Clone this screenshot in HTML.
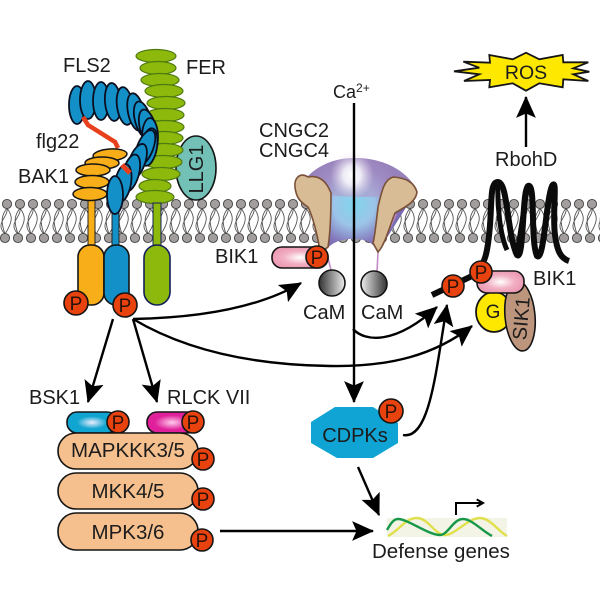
<!DOCTYPE html>
<html><head><meta charset="utf-8"><style>
html,body{margin:0;padding:0;background:#fff}
svg{display:block;filter:blur(.3px)}
text{font-family:"Liberation Sans",sans-serif;fill:#1c1c1c;font-size:20px}
.p{fill:#e8420f;stroke:#151515;stroke-width:1.6}
.pt{font-size:19px;text-anchor:middle;fill:#2a1208}
.b{fill:#1490c8;stroke:#0a0f20;stroke-width:1.8}
.o{fill:#f8ae18;stroke:#151515;stroke-width:1.5}
.g{fill:#8db80c;stroke:#4f7a10;stroke-width:1.2}
.k{fill:#f6c08e;stroke:#151515;stroke-width:1.6}
.a{fill:none;stroke:#000;stroke-width:2.4;marker-end:url(#ah)}
</style></head><body>
<svg width="600" height="600" viewBox="0 0 600 600" xmlns="http://www.w3.org/2000/svg">
<defs>
<marker id="ah" markerUnits="userSpaceOnUse" viewBox="0 0 20 18" refX="19" refY="9" markerWidth="22" markerHeight="20" orient="auto"><path d="M0,0 L20,9 L0,18 L4,9 Z" fill="#000"/></marker>
<marker id="ah2" markerUnits="userSpaceOnUse" viewBox="0 0 10 10" refX="8" refY="5" markerWidth="9" markerHeight="9" orient="auto"><path d="M1,1 L8,5 L1,9" fill="none" stroke="#000" stroke-width="2.2"/></marker>
<pattern id="mem" patternUnits="userSpaceOnUse" x="0" y="195" width="13" height="50">
<path d="M7,13 C2,20 0,25 5,39 M7,13 C12,20 14,25 5,39 M7,13 C9,22 -6,28 5,39" fill="none" stroke="#555" stroke-width=".9"/>
<path d="M20,13 C15,20 13,25 18,39" fill="none" stroke="#555" stroke-width=".9"/>
<circle cx="7" cy="9" r="4.6" fill="#a39e9e" stroke="#444" stroke-width=".9"/>
<circle cx="5" cy="43" r="4.6" fill="#a39e9e" stroke="#444" stroke-width=".9"/>
</pattern>
<radialGradient id="dome" gradientUnits="userSpaceOnUse" cx="354" cy="205" r="52" fx="354" fy="205">
<stop offset="0" stop-color="#80d6ee"/><stop offset=".4" stop-color="#9cc4e8"/><stop offset=".75" stop-color="#8478bc"/><stop offset="1" stop-color="#7260a8"/>
</radialGradient>
<radialGradient id="wh" cx=".5" cy=".5" r=".5"><stop offset="0" stop-color="#fff"/><stop offset=".4" stop-color="#fff" stop-opacity=".8"/><stop offset="1" stop-color="#e8d8ea" stop-opacity="0"/></radialGradient>
<linearGradient id="cam1"><stop offset="0" stop-color="#333"/><stop offset="1" stop-color="#eee"/></linearGradient>
<linearGradient id="cam2"><stop offset="0" stop-color="#eee"/><stop offset="1" stop-color="#333"/></linearGradient>
<radialGradient id="pk"><stop offset="0" stop-color="#fff"/><stop offset=".6" stop-color="#f2b0c4"/><stop offset="1" stop-color="#ec9cb4"/></radialGradient>
<radialGradient id="bl"><stop offset="0" stop-color="#eef"/><stop offset=".6" stop-color="#10a4d0"/></radialGradient>
<radialGradient id="mg"><stop offset="0" stop-color="#fce"/><stop offset=".7" stop-color="#e0209a"/></radialGradient>
</defs>
<rect width="600" height="600" fill="#fff"/>
<rect x="0" y="195" width="600" height="50" fill="url(#mem)"/>

<!-- Rboh -->
<path d="M432,295 L470,277 C486,268 488,250 490,225 C492,200 490,182 498,182 C508,182 507,235 517,255 C524,262 522,190 528,186 C536,182 530,240 537,256 C544,262 546,200 552,186 C558,176 552,215 555,235 C557,250 560,258 569,261" fill="none" stroke="#0b0b0b" stroke-width="6"/>
<path d="M528,186 C522,215 520,245 515,255 M498,182 C497,205 500,235 507,250" fill="none" stroke="#0b0b0b" stroke-width="5"/>

<!-- LLG1 -->
<ellipse cx="196" cy="168" rx="20" ry="32" fill="#72c0b6" stroke="#151515" stroke-width="1.6"/>
<text transform="translate(203,169) rotate(-90)" text-anchor="middle" style="font-size:20px">LLG1</text>

<!-- FER -->
<g class="g">
<ellipse cx="156" cy="56" rx="20" ry="6.5"/><ellipse cx="158" cy="68" rx="18" ry="6.5"/><ellipse cx="160" cy="80" rx="19" ry="6.5"/><ellipse cx="164" cy="91" rx="19" ry="6.5"/><ellipse cx="166" cy="103" rx="19" ry="6.5"/><ellipse cx="165" cy="115" rx="19" ry="6.5"/><ellipse cx="165" cy="127" rx="19" ry="6.5"/><ellipse cx="164" cy="138" rx="19" ry="6.5"/><ellipse cx="164" cy="150" rx="19" ry="6.5"/><ellipse cx="163" cy="162" rx="19" ry="6.5"/><ellipse cx="161" cy="174" rx="19" ry="6.5"/><ellipse cx="155" cy="186" rx="16" ry="6.5"/><ellipse cx="155" cy="197" rx="19" ry="6.5"/>
</g>
<rect x="153" y="203" width="8" height="43" fill="#8db80c" stroke="#14205a" stroke-width="1"/>
<rect x="144" y="245" width="26" height="60" rx="13" fill="#8db80c" stroke="#14205a" stroke-width="1.6"/>

<!-- stems and bodies -->
<rect x="88" y="200" width="7" height="46" fill="#f8ae18" stroke="#222" stroke-width="1"/>
<rect x="112" y="208" width="7" height="38" fill="#1490c8" stroke="#222" stroke-width="1"/>
<rect x="78" y="245" width="26" height="60" rx="12" fill="#f8ae18" stroke="#151515" stroke-width="1.6"/>
<rect x="104" y="245" width="25" height="60" rx="12" fill="#1490c8" stroke="#151515" stroke-width="1.6"/>

<!-- FLS2 upper -->
<g class="b">
<ellipse cx="77" cy="105" rx="8" ry="19"/><ellipse cx="88" cy="100" rx="8" ry="19"/><ellipse cx="101" cy="101" rx="8" ry="19"/><ellipse cx="113" cy="102" rx="8" ry="19" transform="rotate(-5 113 102)"/><ellipse cx="125" cy="106" rx="8" ry="19" transform="rotate(-8 125 106)"/><ellipse cx="136" cy="112" rx="8" ry="19" transform="rotate(-12 136 112)"/><ellipse cx="143" cy="120" rx="8" ry="19" transform="rotate(-15 143 120)"/><ellipse cx="148" cy="128" rx="8" ry="19" transform="rotate(-15 148 128)"/><ellipse cx="150" cy="137" rx="8" ry="19"/><ellipse cx="149" cy="147" rx="8" ry="19" transform="rotate(10 149 147)"/>
</g>
<path d="M83,117 L88,125 L115,142 L118,148" fill="none" stroke="#e8401c" stroke-width="4.5"/>

<!-- BAK1 -->
<g class="o">
<ellipse cx="110" cy="155" rx="17" ry="6" transform="rotate(-4 110 155)"/><ellipse cx="102" cy="163" rx="17" ry="6"/><ellipse cx="93" cy="170" rx="17" ry="6"/><ellipse cx="92" cy="182" rx="17" ry="6.5"/><ellipse cx="90" cy="194" rx="17" ry="6.5"/>
</g>

<!-- FLS2 lower -->
<g class="b">
<ellipse cx="145" cy="148" rx="8" ry="19" transform="rotate(22 145 148)"/><ellipse cx="137" cy="162" rx="8" ry="19" transform="rotate(20 137 162)"/><ellipse cx="131" cy="173" rx="8" ry="19" transform="rotate(15 131 173)"/><ellipse cx="123" cy="183" rx="8" ry="19" transform="rotate(10 123 183)"/><ellipse cx="115" cy="195" rx="8" ry="19"/>
</g>
<path d="M122,165 L130,173" fill="none" stroke="#e8401c" stroke-width="5"/>

<circle class="p" cx="76" cy="303" r="12"/><text class="pt" x="76" y="310">P</text>
<circle class="p" cx="125" cy="305" r="12"/><text class="pt" x="125" y="312">P</text>

<!-- channel -->
<path d="M300,185 C315,165 335,158 355,158 C380,158 405,168 417,190 L378,252 C372,240 362,239 352,239 C342,239 332,242 326,250 Z" fill="url(#dome)"/>
<path d="M300,185 C315,165 335,158 355,158 C380,158 405,168 417,190 C400,200 310,200 300,185 Z" fill="#b098c8" opacity=".6"/>
<ellipse cx="352" cy="175" rx="22" ry="24" fill="url(#wh)"/>
<path d="M328,258 L331,270 M378,252 L377,272 M396,214 L388,232" stroke="#c58cc8" stroke-width="1.6" fill="none"/>
<path d="M295,187 C294,178 300,172 308,177 C318,175 326,180 331,193 C331,215 330,235 328,247 L320,253 C318,235 312,215 308,207 C300,202 296,197 295,187 Z" fill="#d8bc96" stroke="#7a5038" stroke-width="1.6"/>
<path d="M417,192 C414,182 406,178 393,177 C384,180 382,190 378,207 C376,225 374,240 373,243 L378,252 C385,245 390,225 395,213 C405,207 416,202 417,192 Z" fill="#d8bc96" stroke="#7a5038" stroke-width="1.6"/>

<!-- BIK1 left -->
<rect x="272" y="247" width="56" height="21" rx="10" fill="url(#pk)" stroke="#151515" stroke-width="1.6"/>
<circle class="p" cx="317" cy="257" r="11"/><text class="pt" x="317" y="264">P</text>
<circle cx="332" cy="283" r="13" fill="url(#cam1)" stroke="#151515" stroke-width="1.6"/>
<circle cx="374" cy="284" r="13" fill="url(#cam2)" stroke="#151515" stroke-width="1.6"/>

<!-- right complex -->
<ellipse cx="494" cy="312" rx="18" ry="20" fill="#ffe800" stroke="#151515" stroke-width="1.8"/>
<ellipse cx="520" cy="316" rx="15" ry="35" fill="#bc957c" stroke="#151515" stroke-width="1.6" transform="rotate(-5 520 316)"/>
<rect x="477" y="271" width="47" height="22" rx="10" fill="url(#pk)" stroke="#151515" stroke-width="1.6"/>
<circle class="p" cx="481" cy="272" r="11"/><text class="pt" x="481" y="279">P</text>
<circle class="p" cx="453" cy="286" r="11"/><text class="pt" x="453" y="293">P</text>
<text x="493" y="318" text-anchor="middle" style="font-size:19px">G</text>
<text transform="translate(528,319) rotate(-85)" text-anchor="middle" style="font-size:20px">SIK1</text>

<!-- ROS -->
<polygon points="489.3,55 512.7,59.3 526,52.7 539.3,59.3 562.7,55 563.3,62.3 588.3,62.3 573.3,68.3 589.3,71.7 573.3,74.3 588.3,81 563.3,79.3 562.7,87.3 539.3,83.3 526,90.7 512.7,83.3 489.3,87.3 490,80 464,81 479.3,74.3 454,71.3 479.3,67.7 463.3,61.7 490,62.7" fill="#ffe800" stroke="#151515" stroke-width="1.8"/>
<text x="526" y="79" text-anchor="middle" style="font-size:19.5px">ROS</text>

<!-- arrows -->
<path class="a" d="M526,147 L526,97"/>
<path class="a" d="M354,103 L354,402"/>
<path class="a" d="M113,319 L88,402"/>
<path class="a" d="M133,319 L157,402"/>
<path class="a" d="M133,319 C190,318 255,310 301,283"/>
<path class="a" d="M133,319 C185,350 250,365 330,366 C390,367 435,355 472,326"/>
<path class="a" d="M353,329 C365,342 395,345 437,307"/>
<path class="a" d="M403,435 C430,440 436,370 447,305"/>
<path class="a" d="M358,467 L379,515"/>
<path class="a" d="M220,531 L373,531"/>

<!-- lower stack -->
<rect x="67" y="412" width="50" height="21" rx="10" fill="url(#bl)" stroke="#151515" stroke-width="1.6"/>
<rect x="147" y="412" width="50" height="21" rx="10" fill="url(#mg)" stroke="#151515" stroke-width="1.6"/>
<circle class="p" cx="118" cy="422" r="11"/><text class="pt" x="118" y="429">P</text>
<circle class="p" cx="193" cy="422" r="11"/><text class="pt" x="193" y="429">P</text>
<rect class="k" x="58" y="433" width="140" height="36" rx="18"/>
<rect class="k" x="58" y="473" width="140" height="36" rx="18"/>
<rect class="k" x="58" y="513" width="140" height="37" rx="18"/>
<text x="128" y="457" text-anchor="middle" style="font-size:20.5px">MAPKKK3/5</text>
<text x="128" y="498" text-anchor="middle" style="font-size:20.5px">MKK4/5</text>
<text x="128" y="539" text-anchor="middle" style="font-size:20.5px">MPK3/6</text>
<circle class="p" cx="203" cy="459" r="11"/><text class="pt" x="203" y="466">P</text>
<circle class="p" cx="203" cy="499" r="11"/><text class="pt" x="203" y="506">P</text>
<circle class="p" cx="202" cy="540" r="11"/><text class="pt" x="202" y="547">P</text>

<!-- CDPK -->
<polygon points="311,422 335,407 373,407 398,423 398,443 373,458 337,458 311,443" fill="#10a4d4"/>
<text x="355" y="442" text-anchor="middle" style="font-size:20px">CDPKs</text>
<circle class="p" cx="391" cy="411" r="12"/><text class="pt" x="391" y="418">P</text>

<!-- genes -->
<rect x="387" y="518" width="120" height="19" fill="#f3f3e6"/>
<path d="M388,536 C400,530 405,518 417,518 C428,518 435,535 445,535 C455,535 468,518 480,518 C490,518 497,530 507,536" fill="none" stroke="#dfe04a" stroke-width="2.4"/>
<path d="M387,530 C390,525 393,519 398,519 C408,519 428,535 440,535 C448,535 453,519 463,519 C472,519 482,531 492,536" fill="none" stroke="#159848" stroke-width="2.4"/>
<path d="M456,515 L456,503 L483,503" fill="none" stroke="#000" stroke-width="2" marker-end="url(#ah2)"/>

<!-- labels -->
<text x="63" y="72">FLS2</text>
<text x="186" y="74">FER</text>
<text x="36" y="148">flg22</text>
<text x="18" y="183">BAK1</text>
<text x="333" y="98" style="font-size:18px">Ca<tspan dy="-6" style="font-size:12px">2+</tspan></text>
<text x="259" y="137">CNGC2</text>
<text x="259" y="157">CNGC4</text>
<text x="495" y="166">RbohD</text>
<text x="215" y="263">BIK1</text>
<text x="533" y="285">BIK1</text>
<text x="303" y="319">CaM</text>
<text x="361" y="319">CaM</text>
<text x="29" y="404">BSK1</text>
<text x="167" y="404">RLCK VII</text>
<text x="372" y="558" style="font-size:20.5px">Defense genes</text>
</svg>
</body></html>
